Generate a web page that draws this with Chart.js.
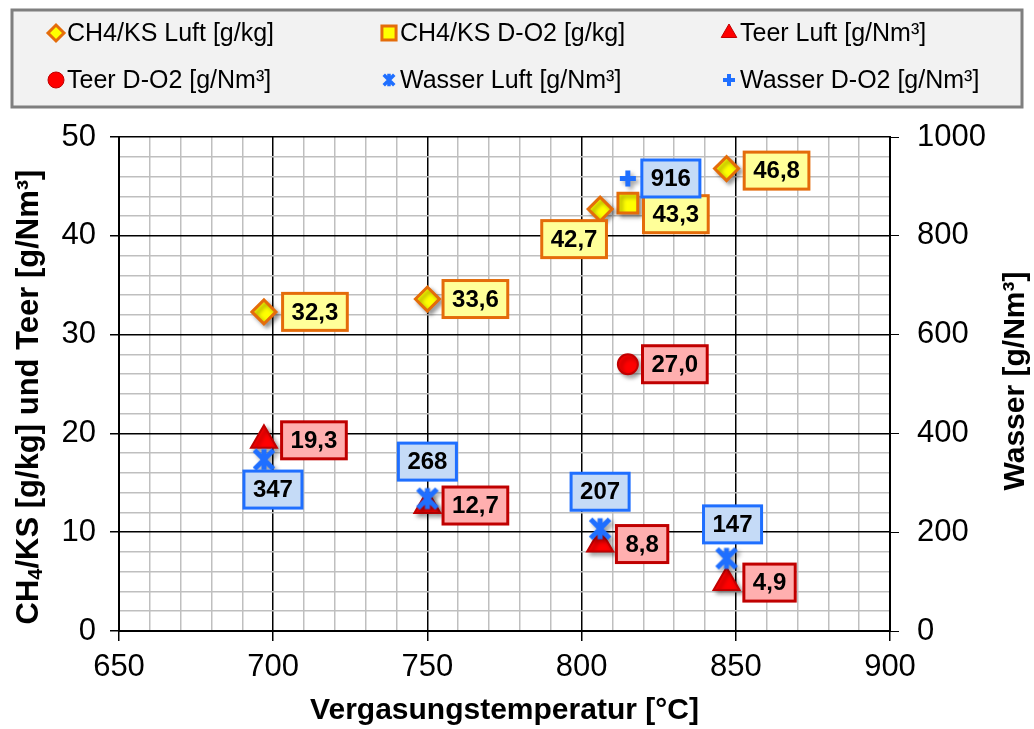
<!DOCTYPE html>
<html>
<head>
<meta charset="utf-8">
<script src="https://cdn.jsdelivr.net/npm/chart.js@4.4.0/dist/chart.umd.min.js"></script>
<style>
  body { margin: 0; background: #fff; }
  canvas { display: block; }
</style>
</head>
<body>
<canvas id="chart" width="1034" height="729"></canvas>
<script>
const tempLuft = [697, 750, 806, 847];
const tempDO2 = [815];
const ch4Luft = [32.3, 33.6, 42.7, 46.8];
const ch4DO2 = [43.3];
const teerLuft = [19.3, 12.7, 8.8, 4.9];
const teerDO2 = [27.0];
const wasserLuft = [347, 268, 207, 147];
const wasserDO2 = [916];
const seriesNames = ['CH4/KS Luft [g/kg]', 'CH4/KS D-O2 [g/kg]', 'Teer Luft [g/Nm³]',
  'Teer D-O2 [g/Nm³]', 'Wasser Luft [g/Nm³]', 'Wasser D-O2 [g/Nm³]'];

const toPoints = (xs, ys) => xs.map((x, i) => ({ x: x, y: ys[i] }));

const FONT = "'Liberation Sans', Arial, sans-serif";
Chart.defaults.font.family = FONT;
Chart.defaults.color = '#000';

const ORANGE = '#E46C0A', YELLOW = '#FFFF00';
const RED = '#FF0000', DARKRED = '#C00000';
const BLUE = '#1F6FFF';

// asterisk marker like the excel one
function makeStar(size, lw) {
  const c = document.createElement('canvas');
  c.width = size; c.height = size;
  const g = c.getContext('2d');
  g.strokeStyle = BLUE;
  g.lineWidth = lw;
  const m = lw / 2 + 1, e = size - m;
  g.beginPath();
  g.moveTo(m, m); g.lineTo(e, e);
  g.moveTo(e, m); g.lineTo(m, e);
  g.moveTo(size / 2, m - 1); g.lineTo(size / 2, e + 1);
  g.stroke();
  return c;
}
const starBig = makeStar(26, 5);
const starSmall = makeStar(16, 3.5);

// label box offsets (dx, dy) from the marker
const labelOffsets = [
  [[51, 0], [48, 0], [-26, 30], [50, 2]],
  [[48, 11]],
  [[50, 0], [48, 0], [42, 0], [43, 0]],
  [[47, 0]],
  [[9, 30], [0, -37], [0, -37], [6, -34]],
  [[43, 0]]
];
const labelColors = [
  ['#FFFF99', ORANGE], ['#FFFF99', ORANGE],
  ['#FFAFAF', DARKRED], ['#FFAFAF', DARKRED],
  ['#C5DBF7', BLUE], ['#C5DBF7', BLUE]
];

const markerShadow = {
  id: 'markerShadow',
  beforeDatasetDraw(chart) {
    const c = chart.ctx;
    c.save();
    c.shadowColor = 'rgba(0,0,0,0.35)';
    c.shadowBlur = 4;
    c.shadowOffsetX = 3;
    c.shadowOffsetY = 3;
  },
  afterDatasetDraw(chart) {
    chart.ctx.restore();
  }
};

const valueBoxes = {
  id: 'valueBoxes',
  afterDatasetsDraw(chart) {
    const ctx = chart.ctx;
    ctx.save();
    ctx.font = 'bold 24px ' + FONT;
    ctx.textAlign = 'center';
    ctx.textBaseline = 'middle';
    chart.data.datasets.forEach((ds, di) => {
      const meta = chart.getDatasetMeta(di);
      meta.data.forEach((pt, i) => {
        const v = ds.data[i].y;
        const text = di >= 4 ? String(Math.round(v)) : v.toFixed(1).replace('.', ',');
        const w = ctx.measureText(text).width + 18;
        const h = 37;
        const cx = pt.x + labelOffsets[di][i][0];
        const cy = pt.y + labelOffsets[di][i][1];
        ctx.fillStyle = labelColors[di][0];
        ctx.strokeStyle = labelColors[di][1];
        ctx.lineWidth = 3;
        ctx.fillRect(cx - w / 2, cy - h / 2, w, h);
        ctx.strokeRect(cx - w / 2, cy - h / 2, w, h);
        ctx.fillStyle = '#000';
        ctx.fillText(text, cx, cy + 1);
      });
    });
    ctx.restore();
  }
};

// both y titles read bottom to top, left one has a real subscript
const axisTitles = {
  id: 'axisTitles',
  afterDraw(chart) {
    const ctx = chart.ctx;
    ctx.save();
    ctx.fillStyle = '#000';
    ctx.textBaseline = 'middle';

    const big = 'bold 31px ' + FONT, small = 'bold 20px ' + FONT;
    const parts = [['CH', big, 0], ['4', small, 7], ['/KS [g/kg] und Teer [g/Nm³]', big, 0]];
    let total = 0;
    parts.forEach(p => { ctx.font = p[1]; total += ctx.measureText(p[0]).width; });
    ctx.translate(28, 397);
    ctx.rotate(-Math.PI / 2);
    ctx.textAlign = 'left';
    let x = -total / 2;
    parts.forEach(p => {
      ctx.font = p[1];
      ctx.fillText(p[0], x, p[2] + 1);
      x += ctx.measureText(p[0]).width;
    });
    ctx.restore();

    ctx.save();
    ctx.fillStyle = '#000';
    ctx.textBaseline = 'middle';
    ctx.textAlign = 'center';
    ctx.font = 'bold 30px ' + FONT;
    ctx.translate(1015, 381);
    ctx.rotate(-Math.PI / 2);
    ctx.fillText('Wasser [g/Nm³]', 0, 1);
    ctx.restore();
  }
};

const boxLegend = {
  id: 'boxLegend',
  afterDraw(chart) {
    const ctx = chart.ctx;
    ctx.save();
    ctx.fillStyle = '#F2F2F2';
    ctx.fillRect(12, 10, 1010, 97);
    ctx.strokeStyle = '#7F7F7F';
    ctx.lineWidth = 3;
    ctx.strokeRect(12, 10, 1010, 97);
    const cols = [56, 389, 729];
    const rows = [33, 80];
    const legendMarks = [
      { pointStyle: 'rectRot', radius: 8, borderWidth: 3 },
      { pointStyle: 'rect', radius: 10, borderWidth: 3 },
      { pointStyle: 'triangle', radius: 9, borderWidth: 1 },
      { pointStyle: 'circle', radius: 8, borderWidth: 1 },
      { pointStyle: starSmall, radius: 8, borderWidth: 0 },
      { pointStyle: 'cross', radius: 6, borderWidth: 4 }
    ];
    ctx.font = '25px ' + FONT;
    ctx.textBaseline = 'middle';
    ctx.textAlign = 'left';
    chart.data.datasets.forEach((ds, i) => {
      const x = cols[i % 3], y = rows[Math.floor(i / 3)];
      const m = legendMarks[i];
      ctx.fillStyle = ds.backgroundColor;
      ctx.strokeStyle = ds.borderColor;
      ctx.lineWidth = m.borderWidth;
      Chart.helpers.drawPoint(ctx, { pointStyle: m.pointStyle, radius: m.radius, rotation: 0, borderWidth: m.borderWidth }, x, y);
      ctx.fillStyle = '#000';
      ctx.fillText(ds.label, x + 11, y + 1);
    });
    ctx.restore();
  }
};

const major = (c, step) => c.tick && Math.round(c.tick.value) % step === 0;

new Chart(document.getElementById('chart'), {
  type: 'scatter',
  data: {
    datasets: [
      { label: seriesNames[0], data: toPoints(tempLuft, ch4Luft), yAxisID: 'y',
        pointStyle: 'rectRot', pointRadius: 12, borderWidth: 3,
        backgroundColor: YELLOW, borderColor: ORANGE, order: 1 },
      { label: seriesNames[1], data: toPoints(tempDO2, ch4DO2), yAxisID: 'y',
        pointStyle: 'rect', pointRadius: 14, borderWidth: 3,
        backgroundColor: YELLOW, borderColor: ORANGE, order: 1 },
      { label: seriesNames[2], data: toPoints(tempLuft, teerLuft), yAxisID: 'y',
        pointStyle: 'triangle', pointRadius: 15, borderWidth: 2,
        backgroundColor: RED, borderColor: DARKRED, order: 2 },
      { label: seriesNames[3], data: toPoints(tempDO2, teerDO2), yAxisID: 'y',
        pointStyle: 'circle', pointRadius: 10, borderWidth: 2,
        backgroundColor: RED, borderColor: DARKRED, order: 2 },
      { label: seriesNames[4], data: toPoints(tempLuft, wasserLuft), yAxisID: 'y2',
        pointStyle: starBig, pointRadius: 13, borderWidth: 0,
        backgroundColor: BLUE, borderColor: BLUE, order: 0 },
      { label: seriesNames[5], data: toPoints(tempDO2, wasserDO2), yAxisID: 'y2',
        pointStyle: 'cross', pointRadius: 8, borderWidth: 5,
        backgroundColor: BLUE, borderColor: BLUE, order: 0 }
    ]
  },
  options: {
    responsive: false,
    animation: false,
    layout: { padding: { top: 137, left: 0, right: 0, bottom: 0 } },
    plugins: { legend: { display: false }, tooltip: { enabled: false } },
    scales: {
      x: {
        type: 'linear', min: 650, max: 900,
        ticks: { stepSize: 10, autoSkip: false, maxRotation: 0, padding: 8,
          font: { size: 31 }, callback: v => v % 50 === 0 ? v : '' },
        grid: {
          color: c => major(c, 50) ? '#000' : '#BFBFBF',
          lineWidth: 1.5,
          tickLength: 10,
          tickColor: c => major(c, 50) ? '#000' : 'rgba(0,0,0,0)'
        },
        border: { color: '#000', width: 2 },
        title: { display: true, text: 'Vergasungstemperatur [°C]',
          font: { size: 30, weight: 'bold' }, padding: { top: 0, bottom: 0 } },
        afterFit: s => { s.height = 98; }
      },
      y: {
        position: 'left', min: 0, max: 50,
        ticks: { stepSize: 2, autoSkip: false, padding: 14, font: { size: 31 },
          callback: v => v % 10 === 0 ? v : '' },
        grid: {
          color: c => major(c, 10) ? '#000' : '#BFBFBF',
          lineWidth: 1.5,
          tickLength: 9,
          tickColor: c => major(c, 10) ? '#000' : 'rgba(0,0,0,0)'
        },
        border: { color: '#000', width: 2 },
        title: { display: false },
        afterFit: s => { s.width = 119; }
      },
      y2: {
        position: 'right', min: 0, max: 1000,
        ticks: { stepSize: 200, padding: 18, font: { size: 31 }, callback: v => String(v) },
        grid: { drawOnChartArea: false, tickLength: 9, tickColor: '#000' },
        border: { color: '#000', width: 2 },
        title: { display: false },
        afterFit: s => { s.width = 144; }
      }
    }
  },
  plugins: [markerShadow, valueBoxes, axisTitles, boxLegend]
});
</script>
</body>
</html>
